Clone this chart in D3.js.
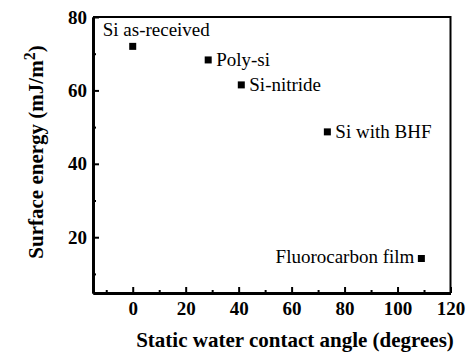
<!DOCTYPE html>
<html>
<head>
<meta charset="utf-8">
<script src="https://cdn.jsdelivr.net/npm/d3@7"></script>
</head>
<body style="margin: 0; padding: 0; background: #fff; font-family: serif;">
<div id="main"></div>
<script>
// values
const materials = ['Si as-received', 'Poly-si', 'Si-nitride', 'Si with BHF', 'Fluorocarbon film'];
const contactAngles = [0, 28.5, 41, 73.5, 109];
const surfaceEnergies = [72, 68.3, 61.5, 48.7, 14.2];
const labelSides = ['above', 'right', 'right', 'right', 'left'];

const xTicks = [0, 20, 40, 60, 80, 100, 120];
const xMinorTicks = [-10, 10, 30, 50, 70, 90, 110];
const yTicks = [20, 40, 60, 80];
const yMinorTicks = [10, 30, 50, 70];

const WIDTH = 468;
const HEIGHT = 358;
const margin = { top: 17, right: 17.5, bottom: 65, left: 93 };

const scatterPlot = (parentSelector) => {
    const data = materials.map((name, i) => ({
        name: name,
        angle: contactAngles[i],
        energy: surfaceEnergies[i],
        side: labelSides[i]
    }));

    const scaleX = d3.scaleLinear()
        .domain([-15, 120])
        .range([margin.left, WIDTH - margin.right]);
    const scaleY = d3.scaleLinear()
        .domain([4.8, 80])
        .range([HEIGHT - margin.bottom, margin.top]);

    const svg = d3.select(parentSelector).append('svg')
        .attr('width', WIDTH)
        .attr('height', HEIGHT)
        .style('display', 'block');

    const x0 = scaleX.range()[0], x1 = scaleX.range()[1];
    const y0 = scaleY.range()[0], y1 = scaleY.range()[1];

    // top and right of the box
    svg.append('path')
        .attr('d', `M${x0},${y1}H${x1}V${y0}`)
        .attr('fill', 'none')
        .attr('stroke', '#000')
        .attr('stroke-width', 2);

    const axisX = d3.axisBottom(scaleX).tickValues(xTicks).tickSizeInner(-6).tickSizeOuter(0).tickPadding(9);
    const axisXMinor = d3.axisBottom(scaleX).tickValues(xMinorTicks).tickSizeInner(-3).tickSizeOuter(0).tickFormat('');
    const axisY = d3.axisLeft(scaleY).tickValues(yTicks).tickSizeInner(-6).tickSizeOuter(0).tickPadding(6);
    const axisYMinor = d3.axisLeft(scaleY).tickValues(yMinorTicks).tickSizeInner(-3).tickSizeOuter(0).tickFormat('');

    const styleAxis = (g) => {
        g.attr('font-family', 'serif').attr('font-size', 19);
        g.select('.domain').attr('stroke-width', 2.8);
        g.selectAll('.tick line').attr('stroke-width', 2);
        g.selectAll('.tick text')
            .style('font-family', 'serif')
            .attr('font-weight', 'bold')
            .attr('fill', '#000');
    };

    svg.append('g').attr('transform', `translate(0,${y0})`).call(axisXMinor).call(styleAxis);
    svg.append('g').attr('transform', `translate(0,${y0})`).call(axisX).call(styleAxis);
    svg.append('g').attr('transform', `translate(${x0},0)`).call(axisYMinor).call(styleAxis);
    svg.append('g').attr('transform', `translate(${x0},0)`).call(axisY).call(styleAxis);

    // axis titles
    svg.append('text')
        .attr('x', 295)
        .attr('y', 347)
        .attr('text-anchor', 'middle')
        .style('font-family', 'serif')
        .attr('font-size', 21)
        .attr('font-weight', 'bold')
        .text('Static water contact angle (degrees)');

    const yTitle = svg.append('text')
        .attr('transform', 'translate(43,152) rotate(-90)')
        .attr('text-anchor', 'middle')
        .style('font-family', 'serif')
        .attr('font-size', 21)
        .attr('font-weight', 'bold');
    yTitle.append('tspan').text('Surface energy (mJ/m');
    yTitle.append('tspan').attr('font-size', 16).attr('dy', -8).text('2');
    yTitle.append('tspan').attr('dy', 8).text(')');

    // points
    const SIZE = 7;
    svg.selectAll('rect.point').data(data).enter().append('rect')
        .attr('class', 'point')
        .attr('x', (d) => scaleX(d.angle) - SIZE / 2)
        .attr('y', (d) => scaleY(d.energy) - SIZE / 2)
        .attr('width', SIZE)
        .attr('height', SIZE)
        .attr('fill', '#000');

    svg.selectAll('text.label').data(data).enter().append('text')
        .attr('class', 'label')
        .attr('x', (d) => scaleX(d.angle) + (d.side === 'above' ? -30 : d.side === 'right' ? 8 : -7))
        .attr('y', (d) => scaleY(d.energy) + (d.side === 'above' ? -10 : d.side === 'right' ? 6 : 4))
        .attr('text-anchor', (d) => d.side === 'left' ? 'end' : 'start')
        .style('font-family', 'serif')
        .attr('font-size', 19)
        .attr('fill', '#000')
        .text((d) => d.name);
};

scatterPlot('#main');
</script>
</body>
</html>
